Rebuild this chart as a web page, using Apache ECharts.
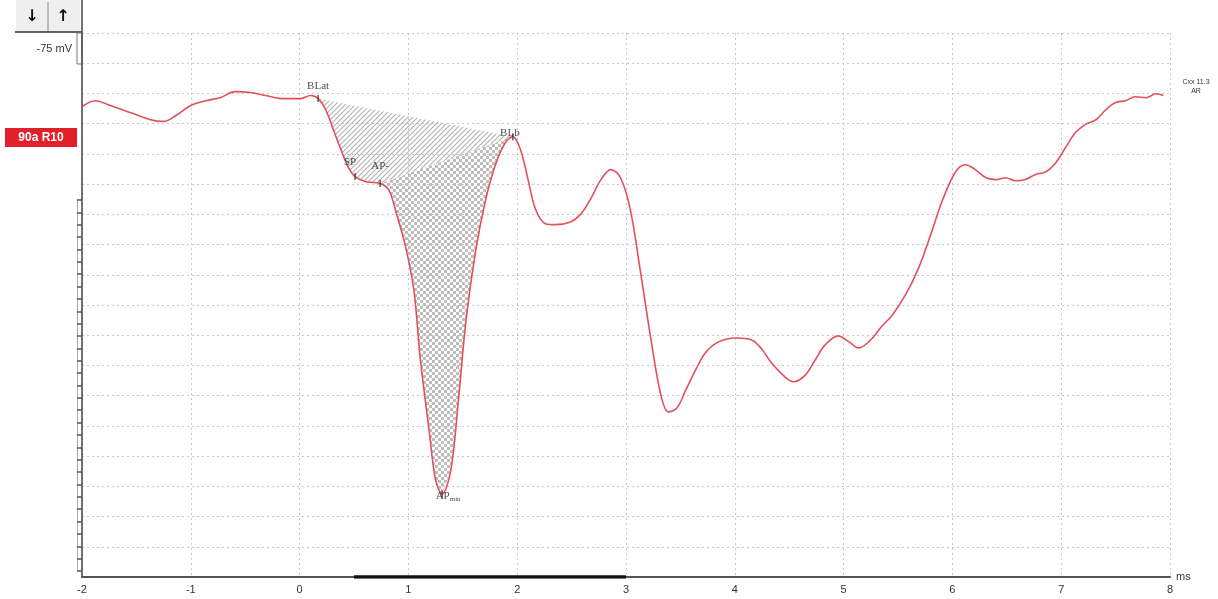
<!DOCTYPE html>
<html>
<head>
<meta charset="utf-8">
<script src="https://cdn.jsdelivr.net/npm/echarts@6/dist/echarts.min.js"></script>
<style>
  html, body { margin: 0; padding: 0; background: #fff; }
  #chart { width: 1218px; height: 599px; }
</style>
</head>
<body>
<div id="chart"></div>
<script>
// time axis, ms
let timeMs = [-2.0, -1.88, -1.74, -1.55, -1.37, -1.25, -1.14, -1.0, -0.86, -0.73, -0.59, -0.45, -0.31, -0.17,
    0.01, 0.1, 0.17, 0.24, 0.31, 0.38, 0.45, 0.51, 0.61, 0.74, 0.82, 0.88, 0.97, 1.05, 1.11, 1.19, 1.25, 1.31,
    1.39, 1.46, 1.53, 1.62, 1.71, 1.8, 1.89, 1.96, 2.03, 2.1, 2.17, 2.26, 2.35, 2.49, 2.58, 2.67, 2.77, 2.86,
    2.95, 3.04, 3.13, 3.23, 3.32, 3.39, 3.47, 3.55, 3.64, 3.73, 3.85, 4.01, 4.15, 4.24, 4.33, 4.44, 4.54, 4.65,
    4.74, 4.83, 4.95, 5.05, 5.14, 5.25, 5.34, 5.45, 5.57, 5.69, 5.8, 5.91, 6.03, 6.12, 6.21, 6.31, 6.4, 6.49,
    6.58, 6.67, 6.76, 6.86, 6.95, 7.04, 7.13, 7.22, 7.32, 7.41, 7.5, 7.59, 7.68, 7.78, 7.87, 7.94];
// trace amplitude, in grid divisions
let amplitude = [15.56, 15.76, 15.6, 15.36, 15.13, 15.07, 15.26, 15.6, 15.76, 15.86, 16.06, 16.03, 15.93, 15.83,
    15.83, 15.93, 15.83, 15.46, 14.8, 14.14, 13.54, 13.25, 13.08, 13.02, 12.81, 12.15, 10.99, 9.5, 7.19, 4.87, 3.21, 2.75,
    3.54, 5.86, 8.51, 10.83, 12.48, 13.64, 14.37, 14.57, 14.14, 13.15, 12.15, 11.69, 11.66, 11.75, 11.99, 12.48, 13.15, 13.48,
    13.21, 12.15, 10.17, 7.85, 6.03, 5.46, 5.6, 6.19, 6.85, 7.42, 7.78, 7.91, 7.85, 7.58, 7.12, 6.69, 6.46, 6.69,
    7.19, 7.68, 7.98, 7.78, 7.58, 7.85, 8.25, 8.68, 9.34, 10.23, 11.32, 12.48, 13.41, 13.64, 13.48, 13.21, 13.15, 13.21,
    13.11, 13.15, 13.31, 13.41, 13.71, 14.21, 14.7, 14.97, 15.13, 15.46, 15.7, 15.76, 15.89, 15.86, 15.99, 15.93];

// markers: name, index into trace
let markerNames = ['BLat', 'SP', 'AP-', 'APmin', 'BLb'];
let markerIdx = [16, 21, 23, 31, 39];
let windowMs = [0.5, 3];

let xTicks = [-2, 8, 1];

function hatch(cross){
    let c = document.createElement('canvas');
    let ctx = c.getContext('2d');
    if(cross){
        c.width = 6; c.height = 6;
        ctx.fillStyle = '#bdbdbd';
        ctx.fillRect(0, 0, 3, 3);
        ctx.fillRect(3, 3, 3, 3);
        return c;
    }
    c.width = 5; c.height = 5;
    ctx.strokeStyle = '#b4b4b4';
    ctx.lineWidth = 1.2;
    ctx.beginPath();
    ctx.moveTo(0, 5); ctx.lineTo(5, 0);
    ctx.moveTo(-2.5, 2.5); ctx.lineTo(2.5, -2.5);
    ctx.moveTo(2.5, 7.5); ctx.lineTo(7.5, 2.5);
    ctx.stroke();
    return c;
}

(function(){
    let chart = echarts.init(document.getElementById('chart'));
    let pts = timeMs.map((t, i) => [t, amplitude[i]]);
    let iBL = markerIdx[0], iAP = markerIdx[2], iB = markerIdx[4];

    // SP area: BLat -> curve -> AP- -> BLb
    let spPoly = pts.slice(iBL, iAP + 1).concat([pts[iB]]);
    // AP area: AP- -> curve -> BLb
    let apPoly = pts.slice(iAP, iB + 1);
    let diag = hatch(false), cross = hatch(true);

    let markData = markerIdx.map((k, n) => ({name: markerNames[n], value: pts[k]}));
    let labelPos = {
        'BLat': {position: 'top', offset: [0, 2]},
        'SP': {position: 'top', offset: [-5, 0]},
        'AP-': {position: 'top', offset: [0, -3]},
        'APmin': {position: 'bottom', offset: [6, -12]},
        'BLb': {position: 'top', offset: [-3, 10]}
    };
    markData.forEach(d => { d.label = labelPos[d.name]; });

    let option = {
        animation: false,
        grid: [
            {left: 82, right: 48, top: 33, bottom: 22},
            {left: 82, right: 48, top: 200, bottom: 28}
        ],
        xAxis: [{
            type: 'value', min: xTicks[0], max: xTicks[1], interval: xTicks[2],
            name: 'ms', nameGap: 6,
            nameTextStyle: {fontFamily: 'Liberation Sans', fontSize: 11, color: '#333'},
            axisLine: {lineStyle: {color: '#555', width: 2}},
            axisTick: {show: false},
            axisLabel: {fontFamily: 'Liberation Sans', fontSize: 11, color: '#333', margin: 7},
            splitLine: {show: true, lineStyle: {color: '#c8c8c8', type: [2, 3], width: 1}}
        }, {
            gridIndex: 1, type: 'value', min: 0, max: 1, show: false
        }],
        yAxis: [{
            type: 'value', min: 0, max: 18, interval: 1,
            axisLine: {show: true, onZero: false, lineStyle: {color: '#444', width: 1.5}},
            axisTick: {show: false},
            axisLabel: {show: false},
            splitLine: {show: true, lineStyle: {color: '#c8c8c8', type: [2, 3], width: 1}}
        }, {
            // scale rail left of the axis
            gridIndex: 1, type: 'value', min: 0, max: 30, interval: 1, offset: 5,
            axisLine: {show: true, onZero: false, lineStyle: {color: '#aaa', width: 1}},
            axisTick: {show: true, inside: true, length: 5, lineStyle: {color: '#555', width: 1.5}},
            axisLabel: {show: false},
            splitLine: {show: false}
        }],
        series: [
            {
                type: 'custom',
                renderItem: function(params, api){
                    let poly = params.dataIndex == 0 ? spPoly : apPoly;
                    return {
                        type: 'polygon',
                        shape: {points: poly.map(p => api.coord(p)), smooth: 0},
                        style: {fill: {image: params.dataIndex == 0 ? diag : cross, repeat: 'repeat'}, stroke: null},
                        z2: 1
                    };
                },
                data: [[0, 0], [1, 0]],
                z: 1,
                silent: true
            },
            {
                type: 'line',
                data: pts,
                smooth: 0.35,
                symbol: 'none',
                lineStyle: {color: '#e4505a', width: 1.6},
                z: 3
            },
            {
                type: 'line',
                data: [[windowMs[0], 0], [windowMs[1], 0]],
                symbol: 'none',
                lineStyle: {color: '#111', width: 3.5},
                z: 4
            },
            {
                type: 'scatter',
                data: markData,
                symbol: 'path://M0,0 L1,0 L1,6 L0,6 Z',
                symbolSize: [1.5, 7],
                itemStyle: {color: '#333'},
                label: {
                    show: true,
                    formatter: p => p.name == 'APmin' ? '{a|AP}{s|min}' : p.name,
                    fontFamily: 'Liberation Serif', fontSize: 11, color: '#222',
                    rich: {
                        a: {fontFamily: 'Liberation Serif', fontSize: 11, color: '#222'},
                        s: {fontFamily: 'Liberation Serif', fontSize: 7, color: '#222', padding: [5, 0, 0, 0]}
                    }
                },
                z: 5
            }
        ],
        graphic: [
            {type: 'rect', shape: {x: 16, y: 0, width: 64, height: 32}, style: {fill: '#efefef', stroke: null}},
            {type: 'line', shape: {x1: 48, y1: 2, x2: 48, y2: 32}, style: {stroke: '#888', lineWidth: 1}},
            {type: 'line', shape: {x1: 15, y1: 32, x2: 82, y2: 32}, style: {stroke: '#333', lineWidth: 1.5}},
            {type: 'line', shape: {x1: 82, y1: 0, x2: 82, y2: 33}, style: {stroke: '#444', lineWidth: 1.5}},
            {type: 'text', style: {x: 32, y: 17, text: '↓', font: 'bold 16px DejaVu Sans', fill: '#111', align: 'center', verticalAlign: 'middle'}},
            {type: 'text', style: {x: 63, y: 17, text: '↑', font: 'bold 16px DejaVu Sans', fill: '#111', align: 'center', verticalAlign: 'middle'}},
            {type: 'rect', shape: {x: 77, y: 33, width: 5, height: 31}, style: {fill: '#fff', stroke: '#777', lineWidth: 1}},
            {type: 'text', style: {x: 72, y: 49, text: '-75 mV', font: '11px Liberation Sans', fill: '#333', align: 'right', verticalAlign: 'middle'}},
            {type: 'rect', shape: {x: 5, y: 128, width: 72, height: 19}, style: {fill: '#e2202b'}},
            {type: 'text', style: {x: 41, y: 138, text: '90a R10', font: 'bold 12px Liberation Sans', fill: '#fff', align: 'center', verticalAlign: 'middle'}},
            {type: 'text', style: {x: 1196, y: 82, text: 'Cxx 11.3', font: '7px Liberation Sans', fill: '#333', align: 'center', verticalAlign: 'middle'}},
            {type: 'text', style: {x: 1196, y: 91, text: 'AR', font: '7px Liberation Sans', fill: '#333', align: 'center', verticalAlign: 'middle'}}
        ]
    };
    chart.setOption(option);
})();
</script>
</body>
</html>
